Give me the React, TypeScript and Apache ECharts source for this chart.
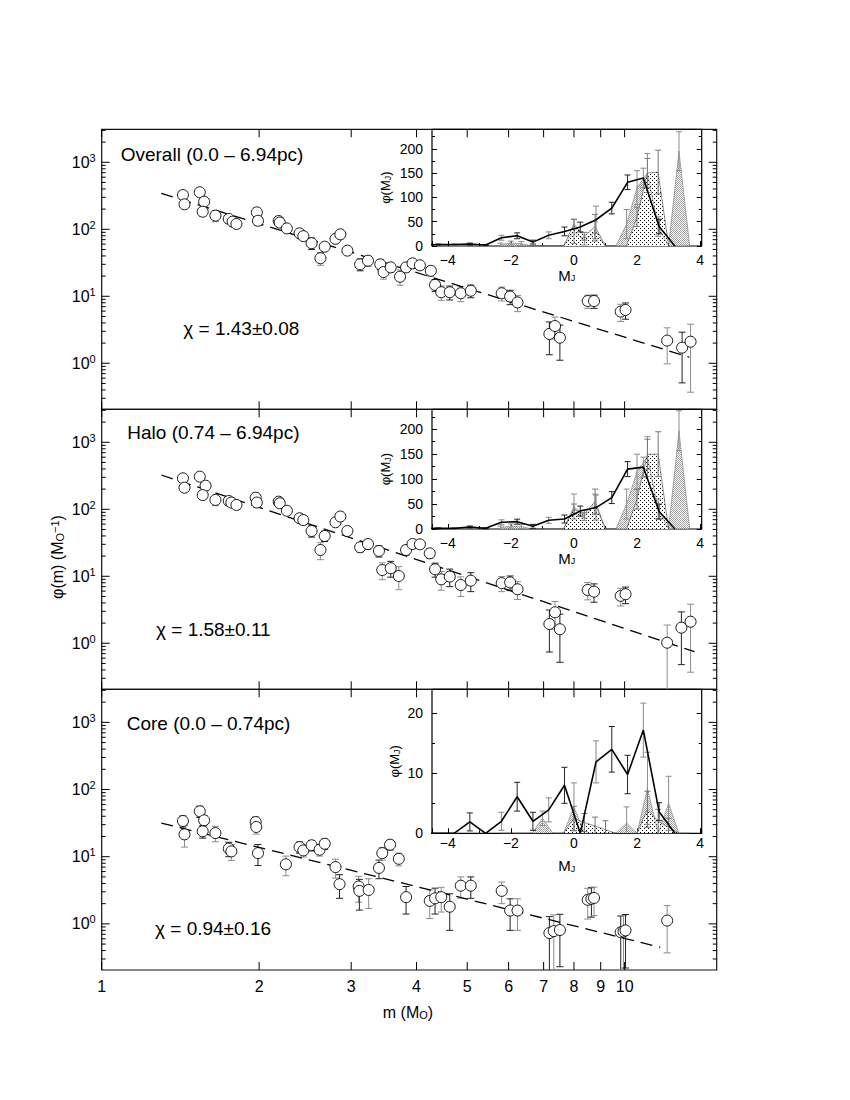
import React, { useEffect, useRef } from 'react';
import * as echarts from 'echarts';

const FONT = "'Liberation Sans', Arial, Helvetica, sans-serif";

// ---------------- main panels (mass function) ----------------
const massOverall = [1.43, 1.44, 1.54, 1.57, 1.56, 1.65, 1.75, 1.78, 1.81, 1.98, 1.99, 2.18, 2.19, 2.26, 2.39, 2.43, 2.52, 2.62, 2.67, 2.80, 2.86, 2.95, 3.12, 3.23, 3.41, 3.46, 3.57, 3.72, 3.82, 3.93, 4.06, 4.26, 4.34, 4.46, 4.63, 4.86, 5.08, 5.82, 6.04, 6.24, 7.18, 7.36, 7.52, 8.50, 8.74, 9.83, 10.04, 12.06, 12.88, 13.37];
const phiOverall = [325, 236, 357, 258, 183, 160, 143, 130, 120, 179, 134, 133, 126, 103, 87, 79, 62, 37, 55, 72, 84, 48, 30, 34, 30, 23, 27, 19.6, 27, 31, 29, 24, 14.8, 11.5, 11.5, 11.1, 12.1, 11.1, 9.9, 8.1, 2.74, 3.6, 2.41, 8.5, 8.5, 5.9, 6.25, 2.18, 1.71, 2.1];
const errOverall = [35, 30, 40, 30, 25, 30, 18, 18, 15, 30, 20, 15, 15, 12, 10, 10, 12, 8, 7, 8, 9, 6, 6, 6, 5, 5, 4, 5, 4, 4, 4, 4, 3, 2.8, 2.7, 2.8, 2.6, 2.6, 2.4, 2.2, 1.4, 1.3, 1.3, 1.9, 1.9, 1.7, 1.7, 1.2, 1.2, 1.73];
const fitOverall = [[1.30, 344], [13.3, 1.23]];

const massHalo = [1.43, 1.44, 1.54, 1.58, 1.56, 1.65, 1.75, 1.77, 1.81, 1.97, 1.98, 2.18, 2.19, 2.26, 2.39, 2.43, 2.52, 2.62, 2.67, 2.80, 2.86, 2.95, 3.12, 3.23, 3.39, 3.44, 3.57, 3.70, 3.82, 3.93, 4.06, 4.24, 4.34, 4.46, 4.63, 4.86, 5.08, 5.82, 6.04, 6.24, 7.18, 7.36, 7.52, 8.50, 8.74, 9.83, 10.04, 12.06, 12.84, 13.37];
const phiHalo = [290, 210, 307, 225, 163, 138, 133, 126, 116, 149, 126, 130, 123, 95, 73.5, 69, 47.4, 24.7, 40, 64, 78, 47.4, 27.1, 30.3, 23.9, 12.4, 13.2, 10.1, 24.7, 30.3, 30, 22, 12.7, 9.0, 9.9, 7.4, 8.6, 7.9, 8.1, 6.4, 1.94, 2.9, 1.62, 6.25, 5.9, 5.1, 5.4, 1.02, 1.71, 2.1];
const errHalo = [32, 25, 35, 28, 22, 25, 16, 16, 14, 25, 18, 14, 14, 12, 10, 9, 9, 7, 7, 8, 9, 6, 4, 5, 4.5, 3.5, 3.5, 3.8, 4, 4, 4, 3.5, 3, 2.8, 2.9, 2.4, 2.7, 2, 2, 1.9, 1.2, 1.3, 1.1, 1.8, 1.8, 1.5, 1.5, 0.85, 1.23, 1.73];
const fitHalo = [[1.30, 325], [13.6, 0.75]];

const massCore = [1.43, 1.44, 1.54, 1.57, 1.56, 1.65, 1.75, 1.77, 1.97, 1.975, 1.99, 2.25, 2.39, 2.43, 2.52, 2.61, 2.67, 2.80, 2.85, 3.10, 3.11, 3.24, 3.39, 3.44, 3.56, 3.70, 3.82, 4.24, 4.34, 4.46, 4.63, 4.86, 5.08, 5.82, 6.04, 6.24, 7.18, 7.32, 7.52, 8.50, 8.64, 8.74, 9.83, 9.95, 10.04, 12.06];
const phiCore = [34, 21.5, 47.4, 34.8, 23.9, 22.5, 13.2, 12.0, 32.8, 27.7, 11.3, 7.7, 13.9, 12.4, 14.8, 12.7, 15.6, 7.0, 3.9, 3.6, 3.1, 3.2, 6.8, 11.3, 15.1, 9.3, 2.5, 2.2, 2.4, 2.5, 1.8, 3.7, 3.7, 3.1, 1.58, 1.58, 0.73, 0.78, 0.81, 2.28, 2.36, 2.43, 0.75, 0.77, 0.80, 1.12];
const errCore = [6.4, 7.6, 9, 6, 5, 5.8, 3.2, 3.2, 6, 6, 3.9, 2.5, 2.6, 2.5, 2.6, 2.5, 2.7, 2.2, 1.5, 1.5, 1.5, 1.5, 2.1, 2.4, 2.5, 2, 1.1, 1.0, 1.0, 1.0, 1.0, 1.3, 1.3, 1.1, 0.78, 0.78, 0.55, 0.58, 0.58, 1.1, 1.1, 1.1, 0.56, 0.56, 0.58, 0.75];
const fitCore = [[1.30, 31.7], [11.7, 0.448]];

const massTickValues = [1, 2, 3, 4, 5, 6, 7, 8, 9, 10];
const phiTickValues = [0.3, 0.4, 0.5, 0.6, 0.7, 0.8, 0.9, 1, 2, 3, 4, 5, 6, 7, 8, 9, 10, 20, 30, 40, 50, 60, 70, 80, 90, 100, 200, 300, 400, 500, 600, 700, 800, 900, 1000, 2000, 3000];

const titles = ['Overall (0.0 – 6.94pc)', 'Halo (0.74 – 6.94pc)', 'Core (0.0 – 0.74pc)'];
const chiTexts = ['χ = 1.43±0.08', 'χ = 1.58±0.11', 'χ = 0.94±0.16'];

// ---------------- insets (luminosity function in M_J) ----------------
const mjBins = [-4.8, -4.3, -3.8, -3.3, -2.8, -2.3, -1.8, -1.3, -0.8, -0.3, 0.2, 0.7, 1.2, 1.7, 2.2, 2.7, 3.2];
const lfOverall = [2, 3, 3, 4, 2, 17, 21, 8, 22, 30, 39, 54, 78, 131, 140, 40, 0];
const lfErrOverall = [0, 1, 1, 2, 1, 5, 6, 4, 7, 9, 10, 28, 12, 15, 20, 15, 0];
const lfHalo = [1, 1.3, 1.3, 4, 1.3, 13.4, 14.7, 5.3, 17.4, 20, 36, 43, 63, 120, 124, 35, 0];
const lfErrHalo = [0, 1, 1, 2, 1, 5, 5, 4, 6, 8, 10, 25, 12, 15, 20, 15, 0];
const lfCore = [0, 0, 0, 1.9, 0, 2, 6.1, 2, 3.9, 8, 0, 11.9, 14, 9.8, 17.2, 3.6, 0];
const lfErrCore = [0, 0, 0, 1.5, 0, 1.5, 2.4, 1.5, 2, 3, 0, 3.5, 3.8, 3.2, 4.5, 1.5, 0];

const fillBins = [-2.33, -2.0, -1.67, -1.33, -1.0, -0.67, -0.33, 0, 0.33, 0.67, 1.0, 1.33, 1.67, 2.0, 2.33, 2.67, 3.0, 3.33, 3.67];
const dotsOverall = [0, 0, 0, 0, 0, 0, 0, 45, 20, 40, 0, 0, 0, 60, 150, 152, 0, 0, 0];
const dotsErrOverall = [0, 0, 0, 0, 0, 0, 0, 10, 8, 25, 0, 0, 0, 20, 30, 45, 0, 0, 0];
const greyOverall = [3, 6, 5, 0, 0, 0, 0, 30, 10, 30, 0, 0, 45, 120, 150, 40, 0, 195, 0];
const greyErrOverall = [3, 4, 4, 0, 0, 0, 0, 25, 8, 20, 0, 0, 30, 35, 40, 20, 0, 40, 0];
const dotsHalo = [0, 0, 0, 0, 0, 0, 0, 40, 30, 55, 0, 0, 0, 60, 150, 150, 0, 0, 0];
const dotsErrHalo = [0, 0, 0, 0, 0, 0, 0, 10, 8, 25, 0, 0, 0, 20, 30, 45, 0, 0, 0];
const greyHalo = [3, 6, 5, 0, 0, 0, 0, 45, 25, 50, 0, 0, 50, 115, 145, 40, 0, 197, 0];
const greyErrHalo = [3, 4, 4, 0, 0, 0, 0, 25, 8, 20, 0, 0, 30, 35, 40, 20, 0, 40, 0];
const dotsCore = [0, 0, 0, 0, 0, 0, 0, 2.5, 1.8, 1.2, 0.6, 0, 0, 0, 4, 2, 1, 0, 0];
const dotsErrCore = [0, 0, 0, 0, 0, 0, 0, 2, 1.5, 1.5, 1.5, 0, 0, 0, 3, 2, 1.5, 0, 0];
const greyCore = [0, 0, 0, 0, 2.5, 0, 0, 4.4, 0, 0, 0, 0, 1.7, 0, 7.5, 0, 5, 0, 0];
const greyErrCore = [0, 0, 0, 0, 1.2, 0, 0, 4, 0, 0, 0, 0, 2.7, 0, 6, 0, 4.5, 0, 0];

// ---------------- layout ----------------
const X_MIN = 1, X_MAX = 15, Y_MIN = 0.2056, Y_MAX = 3108;
const MAIN_LEFT = 101.7, MAIN_WIDTH = 615;
const PANEL_TOPS = [129.3, 409.3, 689.3];
const PANEL_HEIGHTS = [280, 280, 280.7];
const INSET_LEFT = 432, INSET_WIDTH = 269.7;
const INSET_HEIGHTS = [116.7, 119.7, 144];
const INSET_MAX = [240, 240, 24];
const INSET_STEP = [50, 50, 10];

function patternURL(kind: string) {
  const c = document.createElement('canvas');
  const n = kind === 'dots' ? 4 : 2;
  c.width = n; c.height = n;
  const ctx = c.getContext('2d') as CanvasRenderingContext2D;
  ctx.fillStyle = '#ffffff';
  ctx.fillRect(0, 0, n, n);
  if (kind === 'dots') {
    ctx.fillStyle = '#000000';
    ctx.fillRect(0, 0, 1, 1);
    ctx.fillRect(2, 2, 1, 1);
  } else {
    ctx.fillStyle = '#a0a0a0';
    ctx.fillRect(0, 0, 1, 1);
    ctx.fillRect(1, 1, 1, 1);
  }
  return { image: c.toDataURL(), repeat: 'repeat', imageWidth: n, imageHeight: n };
}

function errRender(yMin: number, yMax: number, capHalf: number, colorFn: (i: number) => string) {
  return (params: any, api: any) => {
    const x = api.value(0), y = api.value(1), e = api.value(2);
    if (!(e > 0)) return null;
    const lo = Math.max(y - e, yMin);
    const hi = Math.min(y + e, yMax);
    const pHi = api.coord([x, hi]);
    const pLo = api.coord([x, lo]);
    const st = { stroke: colorFn(params.dataIndex), lineWidth: 1 };
    const ch: any[] = [{ type: 'line', shape: { x1: pHi[0], y1: pHi[1], x2: pLo[0], y2: pLo[1] }, style: st }];
    if (y + e < yMax) ch.push({ type: 'line', shape: { x1: pHi[0] - capHalf, y1: pHi[1], x2: pHi[0] + capHalf, y2: pHi[1] }, style: st });
    if (y - e > yMin) ch.push({ type: 'line', shape: { x1: pLo[0] - capHalf, y1: pLo[1], x2: pLo[0] + capHalf, y2: pLo[1] }, style: st });
    return { type: 'group', children: ch };
  };
}

function buildOption() {
  const dotsPat = patternURL('dots');
  const greyPat = patternURL('grey');
  const panels = [
    { mass: massOverall, phi: phiOverall, err: errOverall, fit: fitOverall, lf: lfOverall, lfErr: lfErrOverall, dots: dotsOverall, dotsErr: dotsErrOverall, grey: greyOverall, greyErr: greyErrOverall },
    { mass: massHalo, phi: phiHalo, err: errHalo, fit: fitHalo, lf: lfHalo, lfErr: lfErrHalo, dots: dotsHalo, dotsErr: dotsErrHalo, grey: greyHalo, greyErr: greyErrHalo },
    { mass: massCore, phi: phiCore, err: errCore, fit: fitCore, lf: lfCore, lfErr: lfErrCore, dots: dotsCore, dotsErr: dotsErrCore, grey: greyCore, greyErr: greyErrCore },
  ];

  const grid: any[] = [];
  PANEL_TOPS.forEach((t, i) => grid.push({ left: MAIN_LEFT, top: t, width: MAIN_WIDTH, height: PANEL_HEIGHTS[i], show: true, borderColor: '#111', borderWidth: 1.2, backgroundColor: 'transparent' }));
  PANEL_TOPS.forEach((t, i) => grid.push({ left: INSET_LEFT, top: t, width: INSET_WIDTH, height: INSET_HEIGHTS[i], show: true, borderColor: '#000', borderWidth: 1.2, backgroundColor: '#fff' }));

  const xAxis: any[] = [];
  const yAxis: any[] = [];
  PANEL_TOPS.forEach((_, i) => {
    xAxis.push({ type: 'log', logBase: 10, gridIndex: i, min: X_MIN, max: X_MAX, axisLine: { show: false, onZero: false }, axisTick: { show: false }, axisLabel: { show: false }, splitLine: { show: false } });
    yAxis.push({
      type: 'log', logBase: 10, gridIndex: i, min: Y_MIN, max: Y_MAX,
      axisLine: { show: false, onZero: false }, axisTick: { show: false }, splitLine: { show: false },
      axisLabel: {
        showMinLabel: false, showMaxLabel: false, margin: 6,
        formatter: (v: number) => `{b|10}{s|${Math.round(Math.log10(v))}}`,
        rich: {
          b: { fontSize: 16, fontFamily: FONT, color: '#000', lineHeight: 20 },
          s: { fontSize: 11, fontFamily: FONT, color: '#000', verticalAlign: 'top', lineHeight: 12 },
        },
      },
    });
  });
  PANEL_TOPS.forEach((_, i) => {
    xAxis.push({
      type: 'value', gridIndex: 3 + i, min: -4.5, max: 4.05, splitNumber: 5,
      axisLine: { show: false, onZero: false }, splitLine: { show: false },
      axisTick: { show: true, inside: true, length: 5, lineStyle: { color: '#000' } },
      minorTick: { show: true, splitNumber: 2, length: 3, lineStyle: { color: '#000' } },
      axisLabel: { fontSize: 14, fontFamily: FONT, color: '#000', margin: i === 2 ? 3 : 7, showMinLabel: false, showMaxLabel: false, formatter: (v: number) => String(v).replace('-', '−') },
      name: 'M{s|J}', nameLocation: 'middle', nameGap: i === 2 ? 25 : 14,
      nameTextStyle: { fontSize: 15, fontFamily: FONT, color: '#000', verticalAlign: 'top', rich: { s: { fontSize: 9, fontFamily: FONT, color: '#000', verticalAlign: 'bottom' } } },
    });
  });
  PANEL_TOPS.forEach((_, i) => {
    yAxis.push({
      type: 'value', gridIndex: 3 + i, min: 0, max: INSET_MAX[i], interval: INSET_STEP[i],
      axisLine: { show: false, onZero: false }, splitLine: { show: false },
      axisTick: { show: true, inside: true, length: 5, lineStyle: { color: '#000' } },
      minorTick: { show: true, splitNumber: 2, length: 3, lineStyle: { color: '#000' } },
      axisLabel: { fontSize: 14, fontFamily: FONT, color: '#000', margin: 9, showMaxLabel: false },
      name: 'φ(M{s|J})', nameLocation: 'middle', nameRotate: 90, nameGap: i === 2 ? 31 : 40,
      nameTextStyle: { fontSize: 13, fontFamily: FONT, color: '#000', rich: { s: { fontSize: 9, fontFamily: FONT, color: '#000', verticalAlign: 'bottom' } } },
    });
  });
  PANEL_TOPS.forEach((_, i) => {
    yAxis.push({
      type: 'value', gridIndex: 3 + i, position: 'right', min: 0, max: INSET_MAX[i], interval: INSET_STEP[i],
      axisLine: { show: false, onZero: false }, splitLine: { show: false },
      axisTick: { show: true, inside: true, length: 5, lineStyle: { color: '#000' } },
      minorTick: { show: true, splitNumber: 2, length: 3, lineStyle: { color: '#000' } },
      axisLabel: { show: false },
    });
  });

  const series: any[] = [];
  panels.forEach((p, i) => {
    // main error bars
    series.push({
      type: 'custom', xAxisIndex: i, yAxisIndex: i, silent: true, z: 3,
      encode: { x: 0, y: 1 },
      data: p.mass.map((m, k) => [m, p.phi[k], p.err[k]]),
      renderItem: errRender(Y_MIN, Y_MAX, 3.5, (k) => (k % 2 ? '#8c8c8c' : '#222')),
    });
    // fit line
    series.push({
      type: 'line', xAxisIndex: i, yAxisIndex: i, silent: true, z: 3,
      data: p.fit, symbol: 'none',
      lineStyle: { color: '#000', width: 1.3, type: [12, 7] },
    });
    // points
    series.push({
      type: 'scatter', xAxisIndex: i, yAxisIndex: i, silent: true, z: 4,
      data: p.mass.map((m, k) => [m, p.phi[k]]),
      symbol: 'circle', symbolSize: 11,
      itemStyle: { color: '#fff', borderColor: '#000', borderWidth: 0.9, opacity: 1 },
    });
    // inset fills
    series.push({
      type: 'line', xAxisIndex: 3 + i, yAxisIndex: 3 + i, silent: true, z: 5,
      data: fillBins.map((x, k) => [x, p.grey[k]]), symbol: 'none',
      lineStyle: { color: '#777', width: 0.6 }, areaStyle: { color: greyPat, opacity: 1 },
    });
    series.push({
      type: 'line', xAxisIndex: 3 + i, yAxisIndex: 3 + i, silent: true, z: 5,
      data: fillBins.map((x, k) => [x, p.dots[k]]), symbol: 'none',
      lineStyle: { color: '#444', width: 0.6 }, areaStyle: { color: dotsPat, opacity: 1 },
    });
    series.push({
      type: 'custom', xAxisIndex: 3 + i, yAxisIndex: 3 + i, silent: true, z: 6, encode: { x: 0, y: 1 },
      data: fillBins.map((x, k) => [x, p.grey[k], p.greyErr[k]]),
      renderItem: errRender(0, INSET_MAX[i], 3, () => '#8c8c8c'),
    });
    series.push({
      type: 'custom', xAxisIndex: 3 + i, yAxisIndex: 3 + i, silent: true, z: 6, encode: { x: 0, y: 1 },
      data: fillBins.map((x, k) => [x, p.dots[k], p.dotsErr[k]]),
      renderItem: errRender(0, INSET_MAX[i], 3, () => '#777'),
    });
    series.push({
      type: 'line', xAxisIndex: 3 + i, yAxisIndex: 3 + i, silent: true, z: 7,
      data: mjBins.map((x, k) => [x, p.lf[k]]), symbol: 'none',
      lineStyle: { color: '#000', width: 1.6 },
    });
    series.push({
      type: 'custom', xAxisIndex: 3 + i, yAxisIndex: 3 + i, silent: true, z: 7, encode: { x: 0, y: 1 },
      data: mjBins.slice(1).map((x, k) => [x, p.lf[k + 1], p.lfErr[k + 1]]),
      renderItem: errRender(0, INSET_MAX[i], 3, (k) => (k % 3 === 1 ? '#888' : '#222')),
    });
    // main x ticks (and labels on last panel)
    const showLabels = i === 2;
    series.push({
      type: 'custom', xAxisIndex: i, yAxisIndex: i, silent: true, z: 20, encode: { x: 0, y: 1 },
      data: massTickValues.map((v) => [v, 1]),
      renderItem: (params: any, api: any) => {
        const v = api.value(0);
        const b = api.coord([v, Y_MIN]);
        const t = api.coord([v, Y_MAX]);
        const st = { stroke: '#000', lineWidth: 1 };
        const ch: any[] = [
          { type: 'line', shape: { x1: b[0], y1: b[1], x2: b[0], y2: b[1] - 8 }, style: st },
          { type: 'line', shape: { x1: t[0], y1: t[1], x2: t[0], y2: t[1] + 8 }, style: st },
        ];
        if (showLabels) ch.push({ type: 'text', x: b[0], y: b[1] + 8, style: { text: String(v), fill: '#000', fontSize: 16, fontFamily: FONT, align: 'center', verticalAlign: 'top' } });
        return { type: 'group', children: ch };
      },
    });
    // main y ticks (left and right)
    series.push({
      type: 'custom', xAxisIndex: i, yAxisIndex: i, silent: true, z: 20, encode: { x: 0, y: 1 },
      data: phiTickValues.map((v) => [X_MIN, v]),
      renderItem: (params: any, api: any) => {
        const v = api.value(1);
        const lg = Math.log10(v);
        const major = Math.abs(lg - Math.round(lg)) < 1e-6;
        const len = major ? 8 : 4;
        const L = api.coord([X_MIN, v]);
        const R = api.coord([X_MAX, v]);
        const st = { stroke: '#000', lineWidth: 1 };
        return {
          type: 'group', children: [
            { type: 'line', shape: { x1: L[0], y1: L[1], x2: L[0] + len, y2: L[1] }, style: st },
            { type: 'line', shape: { x1: R[0], y1: R[1], x2: R[0] - len, y2: R[1] }, style: st },
          ],
        };
      },
    });
  });

  const titlePos = [[120.7, 154], [127.3, 432.5], [126.7, 723]];
  const chiPos = [[183.3, 328], [156, 629], [155, 928]];
  const elements: any[] = [];
  titles.forEach((t, i) => elements.push({ type: 'text', x: titlePos[i][0], y: titlePos[i][1], z: 30, style: { text: t, fill: '#000', fontSize: 19, fontFamily: FONT, align: 'left', verticalAlign: 'middle' } }));
  chiTexts.forEach((t, i) => elements.push({ type: 'text', x: chiPos[i][0], y: chiPos[i][1], z: 30, style: { text: t, fill: '#000', fontSize: 19, fontFamily: FONT, align: 'left', verticalAlign: 'middle' } }));
  elements.push({
    type: 'text', x: 57, y: 557, rotation: Math.PI / 2, z: 30,
    style: {
      text: 'φ(m) (M{s|O}{p|−1})', fill: '#000', fontSize: 16, fontFamily: FONT, align: 'center', verticalAlign: 'middle',
      rich: { s: { fontSize: 11, fontFamily: FONT, fill: '#000', verticalAlign: 'bottom' }, p: { fontSize: 11, fontFamily: FONT, fill: '#000', verticalAlign: 'top' } },
    },
  });
  elements.push({
    type: 'text', x: 408, y: 1012, z: 30,
    style: {
      text: 'm (M{s|O})', fill: '#000', fontSize: 16, fontFamily: FONT, align: 'center', verticalAlign: 'middle',
      rich: { s: { fontSize: 11, fontFamily: FONT, fill: '#000', verticalAlign: 'bottom' } },
    },
  });

  return {
    animation: false,
    backgroundColor: '#fff',
    textStyle: { fontFamily: FONT },
    grid, xAxis, yAxis, series,
    graphic: { elements },
  };
}

export default function App() {
  const ref = useRef<HTMLDivElement>(null);
  useEffect(() => {
    const chart = echarts.init(ref.current as HTMLDivElement, null, { renderer: 'svg' });
    chart.setOption(buildOption() as any);
    return () => chart.dispose();
  }, []);
  return <div ref={ref} style={{ position: 'absolute', left: 0, top: 0, width: 850, height: 1100, background: '#fff' }} />;
}
